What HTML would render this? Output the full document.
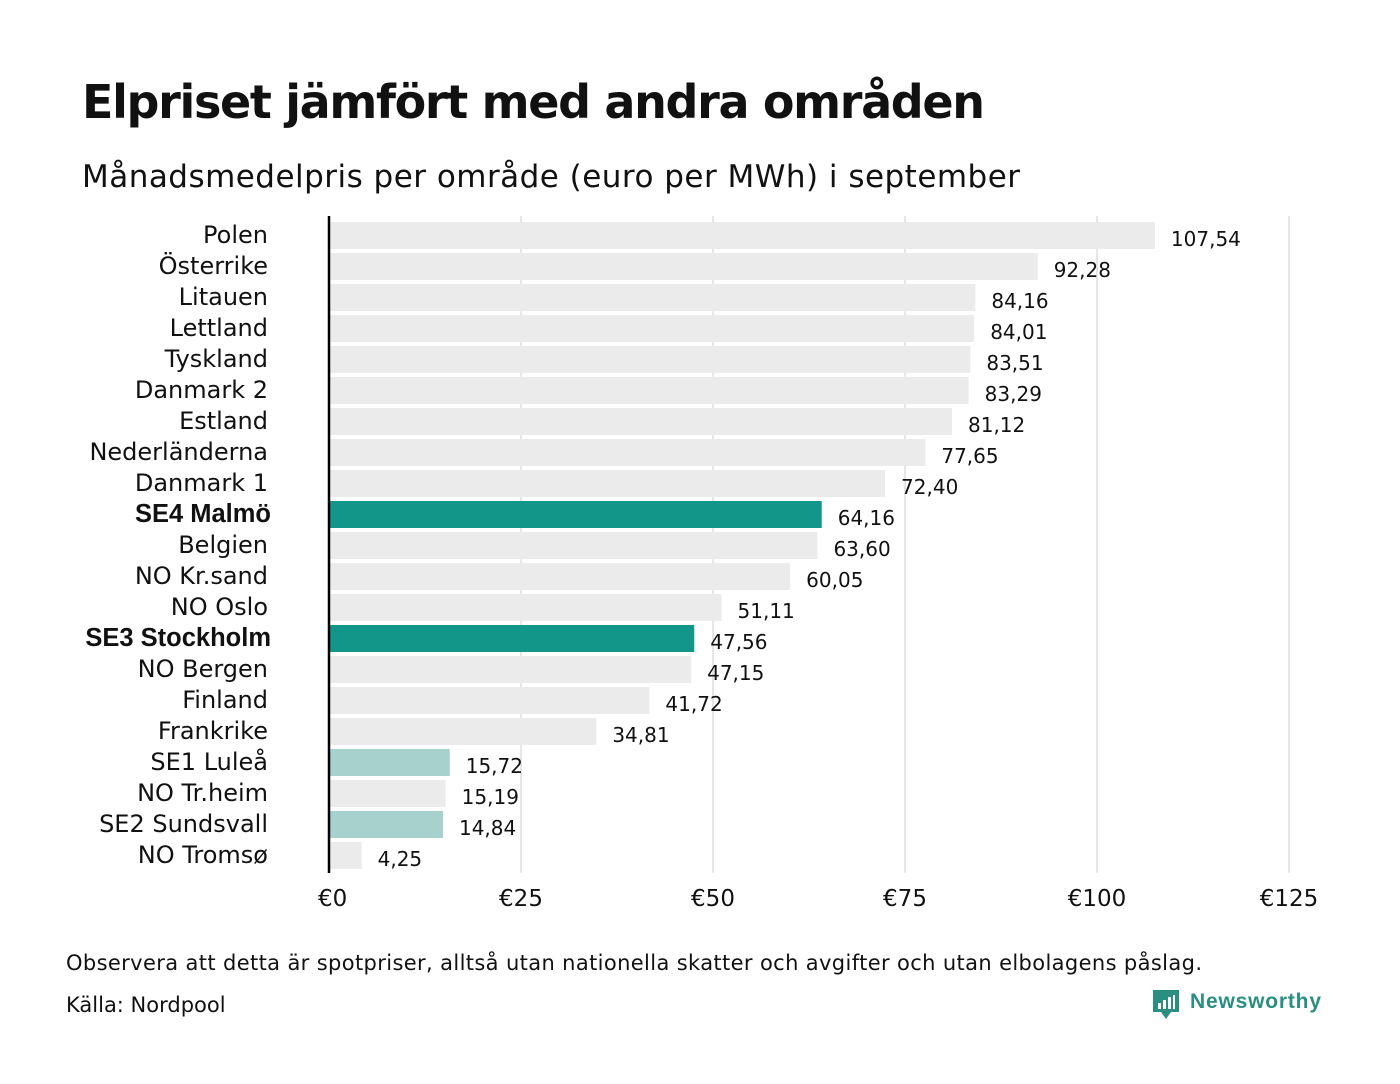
<!DOCTYPE html>
<html><head><meta charset="utf-8"><style>
body{margin:0;background:#fff;width:1400px;height:1080px;overflow:hidden;font-family:"DejaVu Sans","Liberation Sans",sans-serif;}
</style></head><body>
<svg width="1400" height="1080" xmlns="http://www.w3.org/2000/svg">
<text x="82" y="118" font-size="46" font-weight="bold" fill="#111" textLength="903">Elpriset jämfört med andra områden</text>
<text x="82" y="187" font-size="31" fill="#111" textLength="938">Månadsmedelpris per område (euro per MWh) i september</text>
<g id="grid"></g>
<g id="bars"></g>
<line x1="329" y1="216" x2="329" y2="873" stroke="#000" stroke-width="2.5"/>
<g id="xticks"></g>
<text x="66" y="970" font-size="21" fill="#111" textLength="1136">Observera att detta är spotpriser, alltså utan nationella skatter och avgifter och utan elbolagens påslag.</text>
<text x="66" y="1012" font-size="21" fill="#111">Källa: Nordpool</text>
<g>
<path d="M1153 990 h26 v22 h-8 l-5 7 l-5 -7 h-8 z" fill="#2a8f80"/>
<rect x="1158" y="1003" width="3" height="6" fill="#fff"/><rect x="1163" y="1000" width="3" height="9" fill="#fff"/><rect x="1168" y="997" width="3" height="12" fill="#fff"/><rect x="1173" y="995" width="2" height="14" fill="#fff"/>
<text x="1190" y="1008" font-size="21" font-weight="bold" fill="#2a8f80" font-family="Liberation Sans" textLength="131">Newsworthy</text>
</g>
</svg>
<script>
const categories=["Polen","Österrike","Litauen","Lettland","Tyskland","Danmark  2","Estland","Nederländerna","Danmark  1","SE4 Malmö","Belgien","NO Kr.sand","NO Oslo","SE3 Stockholm","NO Bergen","Finland","Frankrike","SE1  Luleå","NO Tr.heim","SE2  Sundsvall","NO Tromsø"];
const values=[107.54,92.28,84.16,84.01,83.51,83.29,81.12,77.65,72.40,64.16,63.60,60.05,51.11,47.56,47.15,41.72,34.81,15.72,15.19,14.84,4.25];
const highlight=["","","","","","","","","","dark","","","","dark","","","","light","","light",""];
const ticks=[0,25,50,75,100,125];
const tickLabels=["€0","€25","€50","€75","€100","€125"];
const NS="http://www.w3.org/2000/svg";
const x=v=>329+v*7.68;
const y=i=>222+i*31;
const bars=document.getElementById('bars'),grid=document.getElementById('grid'),xt=document.getElementById('xticks');
function el(t,a,p){const e=document.createElementNS(NS,t);for(const k in a)e.setAttribute(k,a[k]);p.appendChild(e);return e;}
ticks.forEach((t,i)=>{
 if(t>0){const g=el('line',{x1:x(t),x2:x(t),y1:216,y2:873,stroke:'#ccc','stroke-width':1},grid);
 
 }
 const tx=el('text',{x:x(t)+(i==0?-11:0),y:906,'font-size':23,'text-anchor':i==0?'start':'middle',fill:'#111'},xt);
 tx.textContent=tickLabels[i];
 
 
});
categories.forEach((c,i)=>{
 const h=highlight[i];
 const col=h=='dark'?'#13968a':h=='light'?'#a7d1cc':'#ebebeb';
 const r=el('rect',{x:330,y:y(i),width:x(values[i])-330,height:27,fill:col},bars);
 
 
 const bold=h=='dark';
 const l=el('text',{x:bold?271:268,y:y(i)+21,'font-size':bold?25.5:24,'text-anchor':'end',fill:'#111','font-weight':bold?'bold':'normal','font-family':bold?'Liberation Sans, sans-serif':'DejaVu Sans, sans-serif'},bars);
 l.textContent=c;
 
 
 const v=el('text',{x:x(values[i])+16,y:y(i)+24,'font-size':20,fill:'#111'},bars);
 v.textContent=values[i].toFixed(2).replace('.',',');
 
 
});
</script>
</body></html>
